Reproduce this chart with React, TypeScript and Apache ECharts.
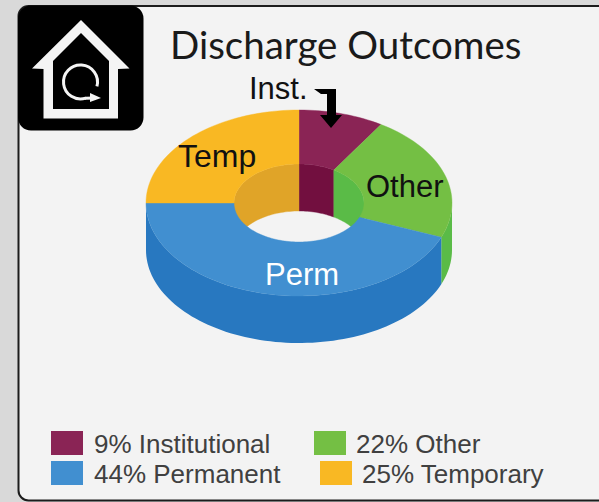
import React, { useEffect, useRef } from "react";
import * as echarts from "echarts";

const sliceNames = ["Institutional", "Other", "Permanent", "Temporary"];
const sliceValues = [9, 22, 44, 25];
const topColors = ["#8A2455", "#74BF44", "#418FD0", "#F9B823"];
const innerWallColors = ["#720F3F", "#5ABB47", "#2878C0", "#E0A428"];
const outerWallColors = ["#6E1C44", "#5ABB47", "#2878C0", "#D99A10"];
const sliceLabels = ["Inst.", "Other", "Perm", "Temp"];
const legendLabels = ["9% Institutional", "22% Other", "44% Permanent", "25% Temporary"];
const titleText = "Discharge Outcomes";

const CX = 299, CY = 203, RX = 153, RY = 93, IRX = 65, IRY = 39, DEPTH = 47;

function arc(cx: number, cy: number, rx: number, ry: number, a0: number, a1: number) {
  // a in degrees, clockwise from 12 o'clock
  const n = Math.max(2, Math.ceil(Math.abs(a1 - a0) / 2));
  const pts: number[][] = [];
  for (let i = 0; i <= n; i++) {
    const a = ((a0 + ((a1 - a0) * i) / n) * Math.PI) / 180;
    pts.push([cx + rx * Math.sin(a), cy - ry * Math.cos(a)]);
  }
  return pts;
}

// rows: [value, cumulative start, slice index]
let cum = 0;
const rows = sliceValues.map((v, i) => {
  const r = [v, cum, i];
  cum += v;
  return r;
});
const total = cum;

function range(api: any) {
  const v = api.value(0), s = api.value(1);
  return [(s / total) * 360, ((s + v) / total) * 360, api.value(2)];
}

const renderTop = (_p: any, api: any) => {
  const [a0, a1, i] = range(api);
  const points = [...arc(CX, CY, RX, RY, a0, a1), ...arc(CX, CY, IRX, IRY, a1, a0)];
  return { type: "polygon", shape: { points }, style: { fill: topColors[i], stroke: topColors[i], lineWidth: 0.4 } };
};

const renderOuterWall = (_p: any, api: any) => {
  const [a0, a1, i] = range(api);
  const b0 = Math.max(a0, 90), b1 = Math.min(a1, 270);
  if (b1 <= b0) return null;
  const points = [...arc(CX, CY, RX, RY, b0, b1), ...arc(CX, CY + DEPTH, RX, RY, b1, b0)];
  return { type: "polygon", shape: { points }, style: { fill: outerWallColors[i] } };
};

const renderInnerWall = (_p: any, api: any) => {
  const [a0, a1, i] = range(api);
  // the visible inner wall is the far half of the hole, -90..90 degrees
  const s0 = a0 >= 180 ? a0 - 360 : a0;
  const s1 = a0 >= 180 ? a1 - 360 : a1;
  const b0 = Math.max(s0, -90), b1 = Math.min(s1, 90);
  if (b1 <= b0) return null;
  const points = [...arc(CX, CY, IRX, IRY, b0, b1), ...arc(CX, CY + DEPTH, IRX, IRY, b1, b0)];
  return { type: "polygon", shape: { points }, style: { fill: innerWallColors[i], stroke: innerWallColors[i], lineWidth: 0.4 } };
};

const customSeries = (name: string, renderItem: any, z: number) => ({
  type: "custom",
  name,
  coordinateSystem: "none",
  silent: true,
  z,
  data: rows,
  dimensions: ["value", "start", "index"],
  renderItem,
});

const labelFont = '"Liberation Sans", Arial, sans-serif';
const sliceText = (text: string, x: number, y: number, fill: string, size = 31) => ({
  type: "text",
  x,
  y,
  z: 20,
  style: { text, fill, font: `${size}px ${labelFont}`, textAlign: "left", textVerticalAlign: "middle" },
});
const legendRow = (i: number, bx: number, by: number, tx: number) => [
  { type: "rect", z: 5, shape: { x: bx, y: by, width: 32, height: 24 }, style: { fill: topColors[i] } },
  {
    type: "text",
    x: tx,
    y: by + 13,
    z: 5,
    style: { text: legendLabels[i], fill: "#404040", font: `26px ${labelFont}`, textAlign: "left", textVerticalAlign: "middle" },
  },
];

const WHITE = "#F4F4F4";
const graphicElements: any[] = [
  { type: "rect", z: -5, shape: { x: 18.5, y: 6, width: 640, height: 494.5, r: 10 }, style: { fill: "#F3F3F3", stroke: "#1C1C1C", lineWidth: 2 } },
  { type: "rect", z: 1, shape: { x: 18, y: 5.5, width: 125.5, height: 125, r: 13 }, style: { fill: "#000" } },
  // house
  { type: "polygon", z: 2, shape: { points: [[81, 20], [129.5, 68.5], [118, 69], [118, 118.5], [43.5, 118.5], [43.5, 69], [32, 68.5]] }, style: { fill: WHITE } },
  { type: "polygon", z: 3, shape: { points: [[81, 33], [109, 61], [109, 109], [53, 109], [53, 61]] }, style: { fill: "#000" } },
  // circular arrow
  { type: "arc", z: 4, shape: { cx: 80.5, cy: 82, r: 17, startAngle: (Math.PI * 15) / 180, endAngle: (Math.PI * 72) / 180, clockwise: false }, style: { stroke: WHITE, lineWidth: 3, fill: "none" } },
  { type: "line", z: 4, shape: { x1: 85, y1: 98.3, x2: 96, y2: 98 }, style: { stroke: WHITE, lineWidth: 3 } },
  { type: "polygon", z: 4, shape: { points: [[90, 93], [101, 98], [90, 102]] }, style: { fill: WHITE } },
  // pointer arrow
  {
    type: "polygon",
    z: 20,
    shape: { points: [[314, 89], [336, 89], [336, 115], [342, 115], [331, 128], [320, 115], [327, 115], [327, 94], [321, 94]] },
    style: { fill: "#000" },
  },
  sliceText(sliceLabels[0], 249, 88, "#111"),
  sliceText(sliceLabels[1], 366, 186, "#111"),
  sliceText(sliceLabels[2], 265, 274, "#fff"),
  sliceText(sliceLabels[3], 178, 156, "#111", 32),
  ...legendRow(0, 51, 431, 94),
  ...legendRow(1, 314, 431, 356),
  ...legendRow(2, 51, 461, 94),
  ...legendRow(3, 320, 461, 362),
];

export default function App() {
  const ref = useRef<HTMLDivElement>(null);
  useEffect(() => {
    const chart = echarts.init(ref.current!, undefined, { renderer: "svg" });
    chart.setOption({
      animation: false,
      title: {
        text: titleText,
        left: 170,
        top: 24,
        padding: 0,
        z: 10,
        textStyle: { fontFamily: "Lato", fontSize: 38.5, fontWeight: "normal", color: "#1a1a1a" },
      },
      series: [
        customSeries("Inner wall", renderInnerWall, 2),
        customSeries("Outer wall", renderOuterWall, 3),
        customSeries(sliceNames.join(" / "), renderTop, 4),
      ],
      graphic: { elements: graphicElements },
    });
    return () => chart.dispose();
  }, []);
  return (
    <div
      ref={ref}
      style={{ position: "absolute", left: 0, top: 0, width: 599, height: 502, background: "#D9D9D9", overflow: "hidden" }}
    />
  );
}
